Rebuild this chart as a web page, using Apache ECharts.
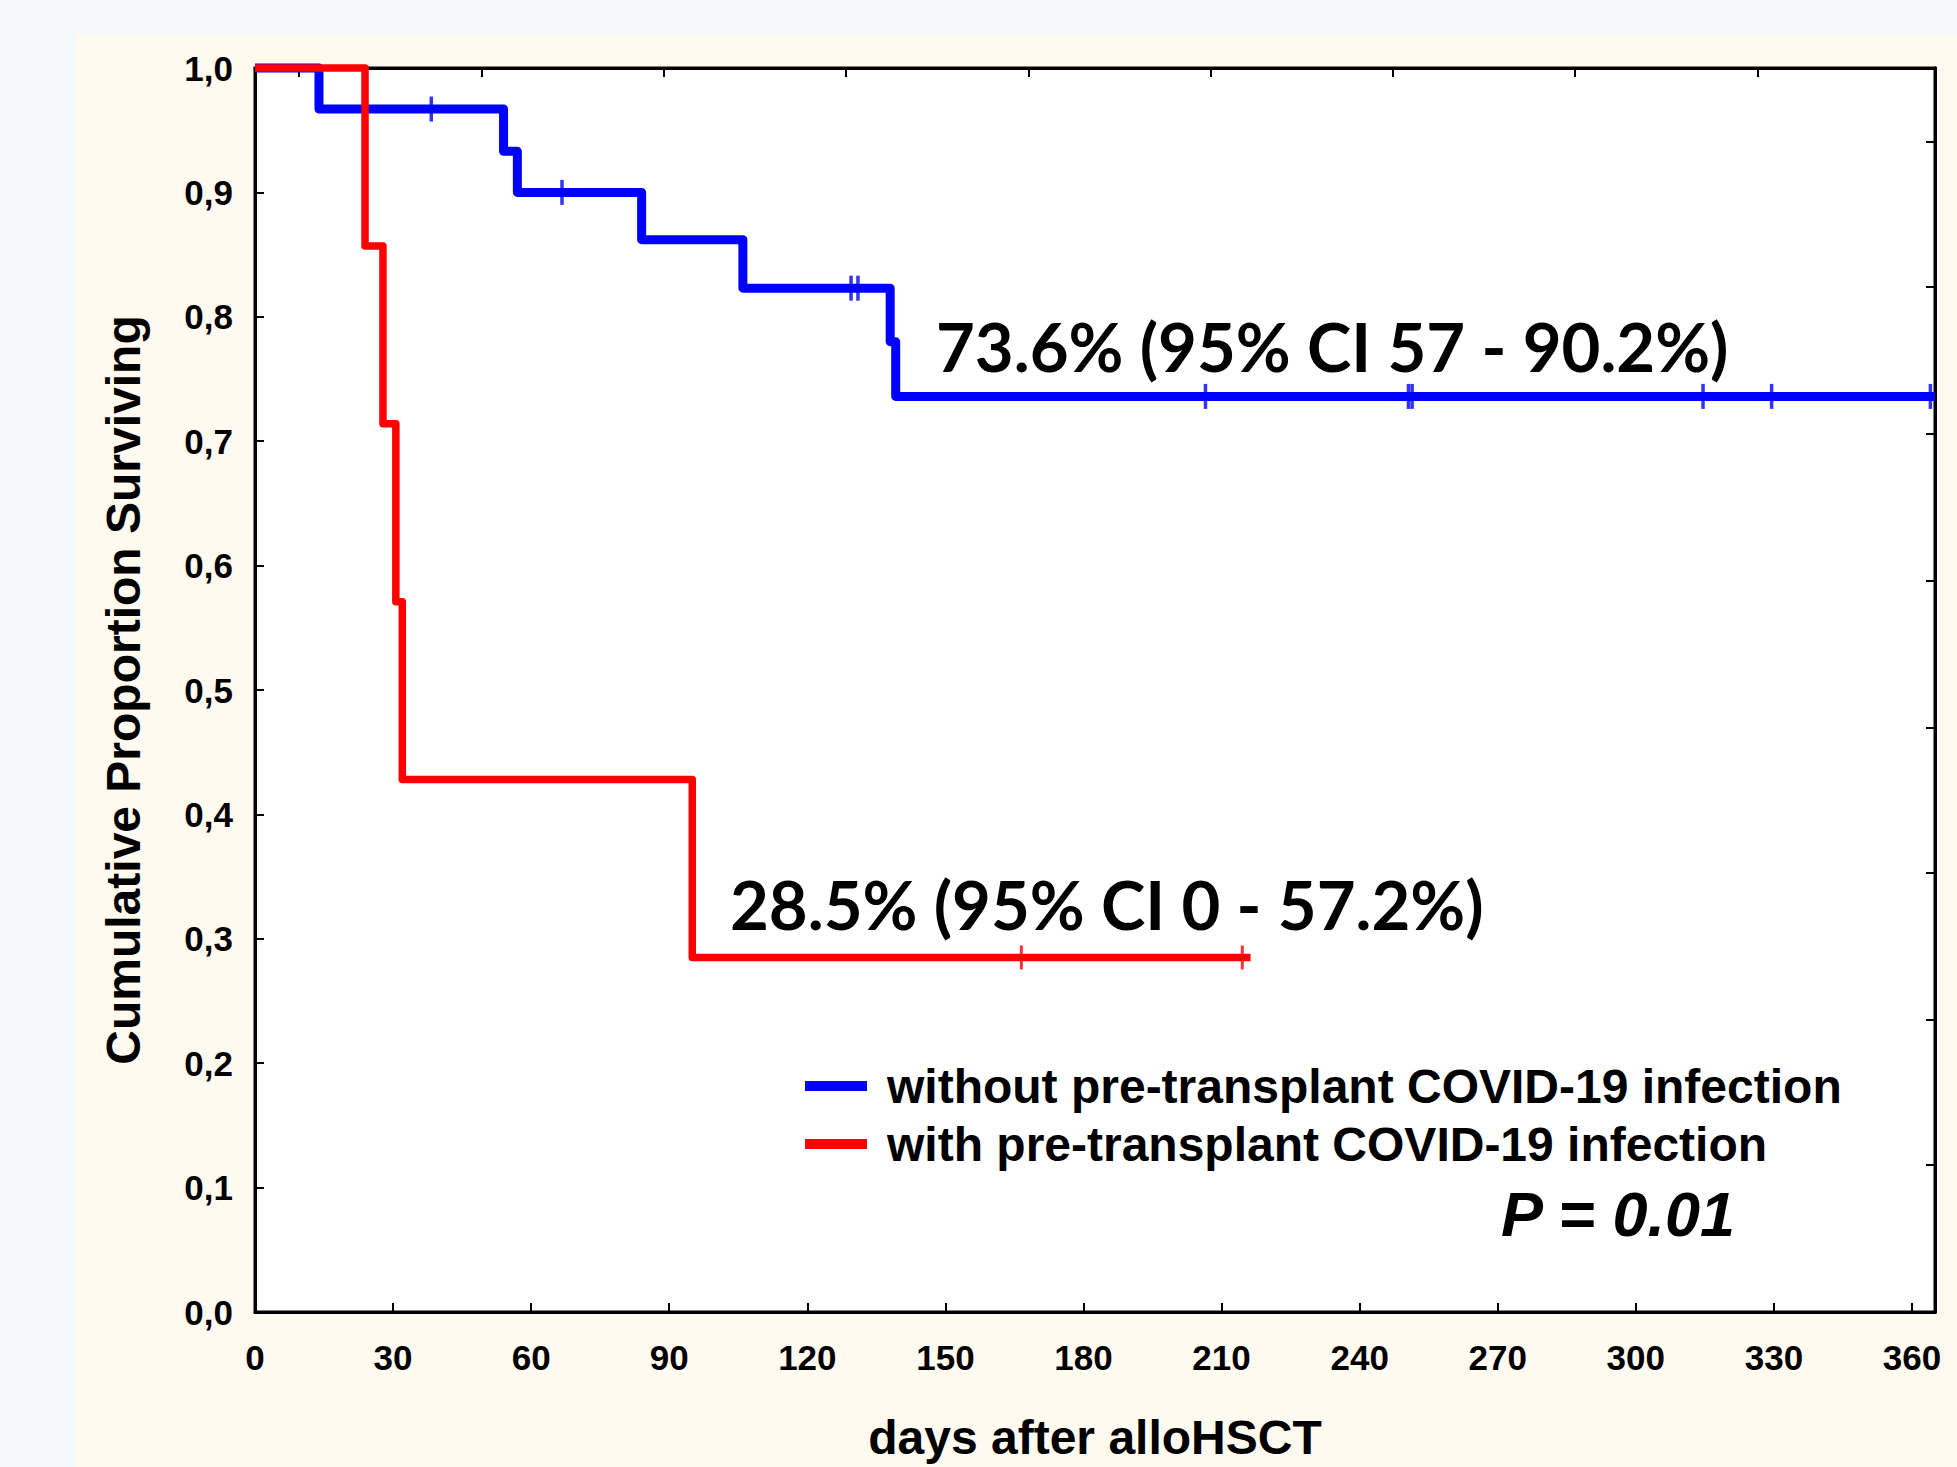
<!DOCTYPE html>
<html>
<head>
<meta charset="utf-8">
<script src="https://cdn.jsdelivr.net/npm/echarts@6/dist/echarts.min.js"></script>
<style>
  html, body { margin: 0; padding: 0; background: #f7f8fa; }
  #wrap { position: relative; width: 1957px; height: 1467px; }
  #panel { position: absolute; left: 75px; top: 35px; right: 0; bottom: 0; background: #fffaf0; }
  #km-chart { position: absolute; left: 0; top: 0; width: 1957px; height: 1467px; }
</style>
</head>
<body>
<div id="wrap">
  <div id="panel"></div>
  <div id="km-chart"></div>
</div>
<script>
// Kaplan-Meier steps (days, proportion surviving)
const blueName = 'without pre-transplant COVID-19 infection';
const blueTimes = [0, 13.9, 54, 57, 84, 106, 138, 139.2, 365];
const blueSurv = [1, 0.967, 0.933, 0.9, 0.862, 0.823, 0.78, 0.736, 0.736];
const blueCensored = [38.3, 66.7, 129.5, 131, 206.5, 250.6, 251.4, 314.6, 329.5, 364];

const redName = 'with pre-transplant COVID-19 infection';
const redTimes = [0, 23.9, 27.8, 30.6, 32, 95, 216.3];
const redSurv = [1, 0.857, 0.714, 0.571, 0.428, 0.285, 0.285];
const redCensored = [166.5, 214.5];

// extra tick marks on the top and right frame
const topTicks = [9.6, 49.2, 88.8, 128.4, 168, 207.6, 247.2, 286.8, 326.4];
const rightTicks = [0.118, 0.235, 0.353, 0.47, 0.588, 0.706, 0.824, 0.941];

const blueNote = '73.6% (95% CI 57 - 90.2%)';
const redNote = '28.5% (95% CI 0 - 57.2%)';
const pNote = 'P = 0.01';

function pairs(xs, ys) {
  return xs.map((x, i) => [x, ys[i]]);
}
// survival value at a censoring time
function survAt(times, surv, t) {
  let v = surv[0];
  for (let i = 0; i < times.length; i++) {
    if (times[i] <= t) v = surv[i];
  }
  return v;
}

const myChart = echarts.init(document.getElementById('km-chart'), null, { renderer: 'svg' });
const tickFont = { fontSize: 35, fontWeight: 'bold', fontFamily: 'Liberation Sans, Arial', color: '#000' };

const options = {
  backgroundColor: 'transparent',
  animation: false,
  grid: {
    left: 255,
    right: 22,
    top: 68,
    bottom: 155,
    outerBoundsMode: 'none',
    show: true,
    backgroundColor: '#ffffff',
    borderColor: '#000',
    borderWidth: 3,
  },
  legend: {
    orient: 'vertical',
    left: 805,
    top: 1062,
    padding: 0,
    data: [blueName, redName],
    icon: 'rect',
    itemWidth: 62,
    itemHeight: 10,
    itemGap: 10,
    textStyle: {
      fontSize: 48,
      fontWeight: 'bold',
      fontFamily: 'Liberation Sans, Arial',
      color: '#000',
      lineHeight: 48,
      padding: [0, 0, 0, 15],
    },
  },
  xAxis: [
    {
      type: 'value',
      min: 0,
      max: 365,
      interval: 30,
      name: 'days after alloHSCT',
      nameLocation: 'middle',
      nameGap: 101,
      nameTextStyle: { fontSize: 48, fontWeight: 'bold', fontFamily: 'Liberation Sans, Arial', color: '#000' },
      axisLine: { onZero: false, lineStyle: { color: '#000', width: 3 } },
      axisTick: { inside: true, length: 9, lineStyle: { color: '#000', width: 2 } },
      axisLabel: Object.assign({ margin: 28, showMaxLabel: false }, tickFont),
      splitLine: { show: false },
    },
    {
      type: 'value',
      position: 'top',
      min: 0,
      max: 365,
      axisLine: { onZero: false, lineStyle: { color: '#000', width: 3 } },
      axisTick: { inside: true, length: 9, customValues: topTicks, lineStyle: { color: '#000', width: 2 } },
      axisLabel: { show: false },
      splitLine: { show: false },
    },
  ],
  yAxis: [
    {
      type: 'value',
      min: 0,
      max: 1,
      interval: 0.1,
      name: 'Cumulative Proportion Surviving',
      nameLocation: 'middle',
      nameGap: 108,
      nameTextStyle: { fontSize: 48, fontWeight: 'bold', fontFamily: 'Liberation Sans, Arial', color: '#000' },
      axisLine: { show: true, onZero: false, lineStyle: { color: '#000', width: 3 } },
      axisTick: { show: true, inside: true, length: 9, lineStyle: { color: '#000', width: 2 } },
      axisLabel: Object.assign({
        margin: 22,
        formatter: (v) => v.toFixed(1).replace('.', ','),
      }, tickFont),
      splitLine: { show: false },
    },
    {
      type: 'value',
      position: 'right',
      min: 0,
      max: 1,
      axisLine: { show: true, onZero: false, lineStyle: { color: '#000', width: 3 } },
      axisTick: { show: true, inside: true, length: 9, customValues: rightTicks, lineStyle: { color: '#000', width: 2 } },
      axisLabel: { show: false },
      splitLine: { show: false },
    },
  ],
  series: [
    {
      name: blueName,
      type: 'line',
      step: 'end',
      clip: false,
      showSymbol: false,
      color: '#0000ff',
      lineStyle: { color: '#0000ff', width: 9, join: 'round' },
      data: pairs(blueTimes, blueSurv),
      z: 3,
    },
    {
      name: redName,
      type: 'line',
      step: 'end',
      clip: false,
      showSymbol: false,
      color: '#ff0000',
      lineStyle: { color: '#ff0000', width: 7.5, join: 'round' },
      data: pairs(redTimes, redSurv),
      z: 4,
    },
    {
      name: 'blue censored',
      type: 'scatter',
      symbol: 'rect',
      symbolSize: [3.5, 25],
      itemStyle: { color: '#0000ff' },
      data: blueCensored.map((t) => [t, survAt(blueTimes, blueSurv, t)]),
      z: 5,
    },
    {
      name: 'red censored',
      type: 'scatter',
      symbol: 'rect',
      symbolSize: [3, 24],
      itemStyle: { color: '#ff0000' },
      data: redCensored.map((t) => [t, survAt(redTimes, redSurv, t)]),
      z: 5,
    },
  ],
  graphic: [
    {
      type: 'text',
      x: 936,
      y: 346,
      style: { text: blueNote, fontSize: 67, fontWeight: 'bold', fontFamily: 'Lato', fill: '#000', verticalAlign: 'middle' },
    },
    {
      type: 'text',
      x: 730,
      y: 904,
      style: { text: redNote, fontSize: 67, fontWeight: 'bold', fontFamily: 'Lato', fill: '#000', verticalAlign: 'middle' },
    },
    {
      type: 'text',
      x: 1501,
      y: 1214,
      style: { text: pNote, fontSize: 63, fontWeight: 'bold', fontStyle: 'italic', fontFamily: 'Liberation Sans, Arial', fill: '#000', verticalAlign: 'middle' },
    },
  ],
};
myChart.setOption(options);
</script>
</body>
</html>
